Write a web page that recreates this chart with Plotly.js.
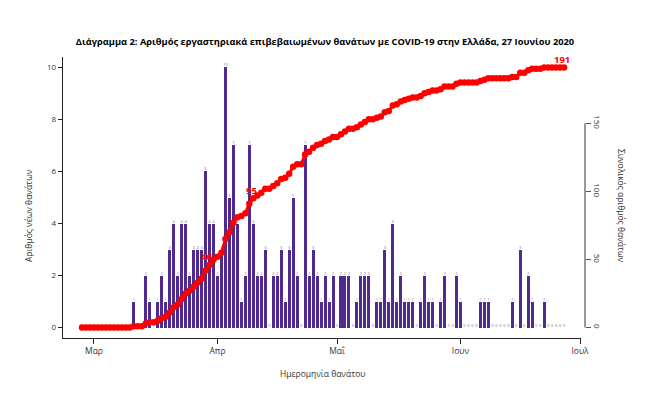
<!DOCTYPE html>
<html>
<head>
<meta charset="utf-8">
<script src="https://cdn.plot.ly/plotly-3.0.1.min.js"></script>
<style>html,body{margin:0;padding:0;background:#fff;}#chart{width:650px;height:394px;}</style>
</head>
<body>
<div id="chart"></div>
<script>
// Daily deaths from 2020-02-27 to 2020-06-27
const startDate = "2020-02-27";
const dailyDeaths = [
  0,0,0,
  0,0,0,0,0,0,0,0,0,0,
  1,0,0,2,1,0,1,2,1,3,4,2,4,4,2,3,3,3,6,4,4,
  2,3,10,5,7,4,1,2,7,4, 2,2,3,0,2,2,3,1,3,5, 2,0,7,2,3,2,1,2,1,2,
  0,2,2,2,0,1,2,2,2,0, 1,1,3,1,4,1,2,1,1,1, 0,1,2,1,1,0,1,2,0,0, 2,
  1,0,0,0,0,1,1,1,0,0, 0,0,0,1,0,3,0,2,1,0, 0,1,0,0,0,0,0
];
const labelledDates = ["2020-03-30", "2020-04-10", "2020-06-27"];
const monthTicks = ["2020-03-01","2020-04-01","2020-05-01","2020-06-01","2020-07-01"];
const monthLabels = ["Μαρ","Απρ","Μαΐ","Ιουν","Ιουλ"];
const leftTicks = [0,2,4,6,8,10];
const rightTicks = [0,50,100,150];

const DAY = 86400000;
const t0 = Date.parse(startDate + "T00:00:00Z");
const dates = dailyDeaths.map((_, i) => new Date(t0 + i*DAY).toISOString().slice(0,10));
const cumulative = [];
dailyDeaths.reduce((s, v) => { s += v; cumulative.push(s); return s; }, 0);
const labelValues = labelledDates.map(d => cumulative[dates.indexOf(d)]);

function fmt(ms){ return new Date(ms).toISOString().replace("T"," ").slice(0,19); }
const mar1 = Date.parse("2020-03-01T00:00:00Z");
const xRange = [fmt(mar1 - 7.78*DAY), fmt(mar1 + 122.25*DAY)];

const FONT = "Open Sans, Noto Sans, sans-serif";
const traces = [
  {
    type: "bar", x: dates, y: dailyDeaths, width: 0.76*DAY,
    marker: {color: "#4f2b90"}, hoverinfo: "skip", xaxis: "x", yaxis: "y"
  },
  {
    type: "scatter", mode: "text", x: dates, y: dailyDeaths,
    text: dailyDeaths.map(String), textposition: "top center",
    textfont: {size: 4, color: "#777", family: FONT},
    hoverinfo: "skip", cliponaxis: false, xaxis: "x", yaxis: "y"
  },
  {
    type: "scatter", mode: "lines+markers", x: dates, y: cumulative,
    line: {color: "#ff0000", width: 3}, marker: {color: "#ff0000", size: 6.5},
    hoverinfo: "skip", cliponaxis: false, xaxis: "x", yaxis: "y2"
  }
];

const labelShiftX = [-3, -1.5, -2];
const redLabels = labelledDates.map((d, i) => ({
  text: "<b>" + labelValues[i] + "</b>", x: d, y: labelValues[i],
  xref: "x", yref: "y2", showarrow: false,
  xanchor: "center", yanchor: "middle", xshift: labelShiftX[i], yshift: 8,
  font: {size: 9.5, color: "#ff0000", family: FONT}
}));

const layout = {
  width: 650, height: 394,
  margin: {l: 63, r: 65, t: 57, b: 56},
  paper_bgcolor: "#fff", plot_bgcolor: "#fff",
  showlegend: false,
  font: {family: FONT, color: "#333"},
  title: {
    text: "Διάγραμμα 2: Αριθμός εργαστηριακά επιβεβαιωμένων θανάτων με COVID-19 στην Ελλάδα, 27 Ιουνίου 2020",
    font: {size: 9.3, color: "#000", family: FONT, weight: "bold"},
    x: 0.5, xref: "container", xanchor: "center",
    y: 1 - 42/394, yref: "container", yanchor: "middle"
  },
  bargap: 0,
  xaxis: {
    type: "date", domain: [0, 518/522], range: xRange,
    tickvals: monthTicks, ticktext: monthLabels,
    ticks: "outside", ticklen: 5, tickcolor: "#222",
    showline: true, linecolor: "#222", linewidth: 1.2,
    showgrid: false, zeroline: false,
    tickfont: {size: 8.5, color: "#333"}
  },
  yaxis: {
    range: [-0.4, 10.4], tickvals: leftTicks,
    ticks: "outside", ticklen: 4, tickcolor: "#222",
    showline: true, linecolor: "#222", linewidth: 1.2,
    showgrid: false, zeroline: false,
    tickfont: {size: 8, color: "#333"}
  },
  yaxis2: {
    range: [-7.64, 198.64], tickvals: rightTicks,
    overlaying: "y", side: "right", anchor: "free", position: 1,
    ticks: "outside", ticklen: 5, tickcolor: "#555",
    showline: false, showgrid: false, zeroline: false,
    tickangle: 90,
    tickfont: {size: 8, color: "#333"}
  },
  shapes: [
    {type: "line", xref: "paper", yref: "y2", x0: 1, x1: 1,
     y0: rightTicks[0], y1: rightTicks[rightTicks.length-1],
     line: {color: "#555", width: 1.2}}
  ],
  annotations: [
    {text: "Ημερομηνία θανάτου", xref: "paper", yref: "paper",
     x: (322-63)/522, y: (338-373)/281, showarrow: false,
     xanchor: "center", yanchor: "middle", font: {size: 8.5, color: "#333"}},
    {text: "Αριθμός νέων θανάτων", xref: "paper", yref: "paper",
     x: (28-63)/522, y: (338-216)/281, showarrow: false, textangle: -90,
     xanchor: "center", yanchor: "middle", font: {size: 8.5, color: "#333"}},
    {text: "Συνολικός αριθμός θανάτων", xref: "paper", yref: "paper",
     x: (622-63)/522, y: (338-206)/281, showarrow: false, textangle: 90,
     xanchor: "center", yanchor: "middle", font: {size: 8.5, color: "#333"}}
  ].concat(redLabels)
};

Plotly.newPlot("chart", traces, layout, {displayModeBar: false, staticPlot: true});
</script>
</body>
</html>
